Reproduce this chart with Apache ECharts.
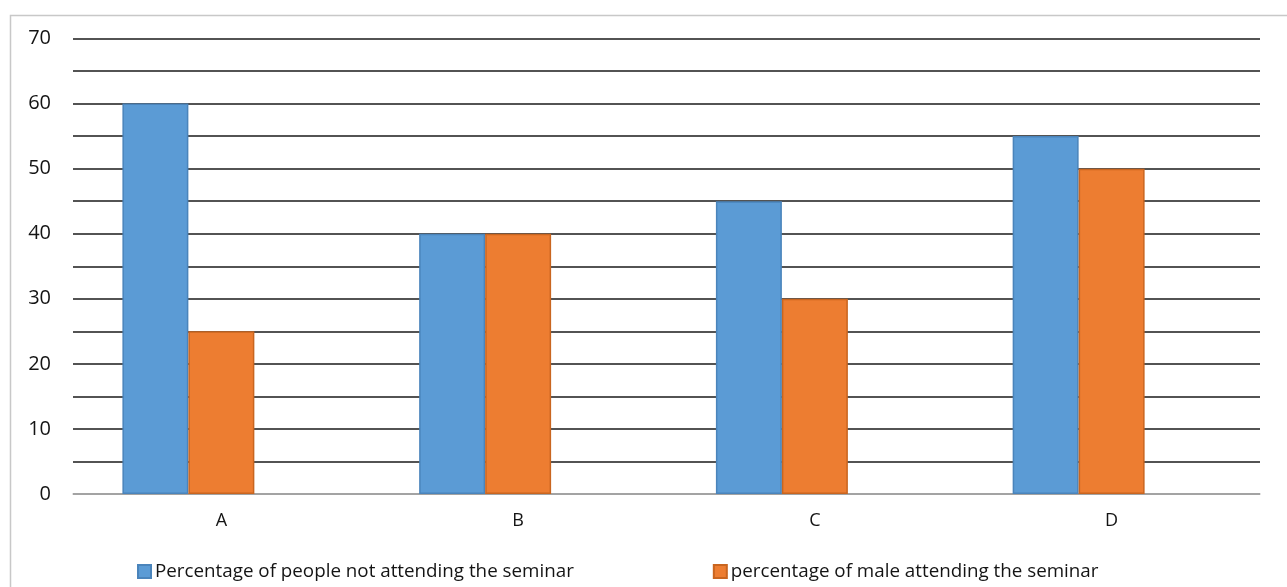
<!DOCTYPE html>
<html>
<head>
<meta charset="utf-8">
<script src="https://cdn.jsdelivr.net/npm/echarts@6/dist/echarts.min.js"></script>
<style>
  html, body { margin: 0; padding: 0; background: #fff; }
  #chart { width: 1287px; height: 587px; }
</style>
</head>
<body>
<div id="chart"></div>
<script>
// Categories and series values
const categories = ['A', 'B', 'C', 'D'];
const notAttending = [60, 40, 45, 55];
const maleAttending = [25, 40, 30, 50];
// Third slot in each group, left empty
const emptySlot = [null, null, null, null];
const seriesNames = [
  'Percentage of people not attending the seminar',
  'percentage of male attending the seminar'
];
const yTicks = [0, 10, 20, 30, 40, 50, 60, 70];

const FONT = '"Open Sans", Lato, sans-serif';
const chart = echarts.init(document.getElementById('chart'));

chart.setOption({
  animation: false,
  backgroundColor: '#ffffff',
  textStyle: { fontFamily: FONT },
  graphic: [{
    type: 'rect',
    left: 8, top: 13,
    shape: { width: 1300, height: 600 },
    style: { fill: 'none', stroke: '#c8c8c8', lineWidth: 1.5 },
    silent: true, z: -1
  }],
  grid: { left: 73, right: 27, top: 38.5, bottom: 93, containLabel: false },
  legend: {
    data: seriesNames,
    left: 137, top: 562,
    padding: 0,
    itemWidth: 13, itemHeight: 13, itemGap: 139,
    icon: 'rect',
    textStyle: { fontFamily: FONT, fontSize: 18.8, color: '#141414', padding: [0, 0, 0, -1] }
  },
  xAxis: {
    type: 'category',
    data: categories,
    axisTick: { show: false },
    axisLine: { lineStyle: { color: '#bfbfbf', width: 1.5 } },
    axisLabel: { fontFamily: FONT, fontSize: 18, color: '#141414', margin: 18 }
  },
  yAxis: {
    type: 'value',
    min: 0, max: 70, interval: 5,
    axisLine: { show: false },
    axisTick: { show: false },
    splitLine: { lineStyle: { color: '#1a1a1a', width: 1.6 } },
    axisLabel: {
      fontFamily: FONT, fontSize: 20, color: '#141414', margin: 22,
      formatter: v => (yTicks.indexOf(v) >= 0 ? String(v) : '')
    }
  },
  series: [
    {
      name: seriesNames[0], type: 'bar', data: notAttending,
      barGap: '0%', barCategoryGap: '33.3%',
      itemStyle: { color: '#5b9bd5', borderColor: '#4a84bb', borderWidth: 1.5 }
    },
    {
      name: seriesNames[1], type: 'bar', data: maleAttending,
      barGap: '0%', barCategoryGap: '33.3%',
      itemStyle: { color: '#ed7d31', borderColor: '#c9651f', borderWidth: 1.5 }
    },
    {
      name: 'empty', type: 'bar', data: emptySlot,
      barGap: '0%', barCategoryGap: '33.3%',
      itemStyle: { color: '#a5a5a5' }
    }
  ]
});
</script>
</body>
</html>
